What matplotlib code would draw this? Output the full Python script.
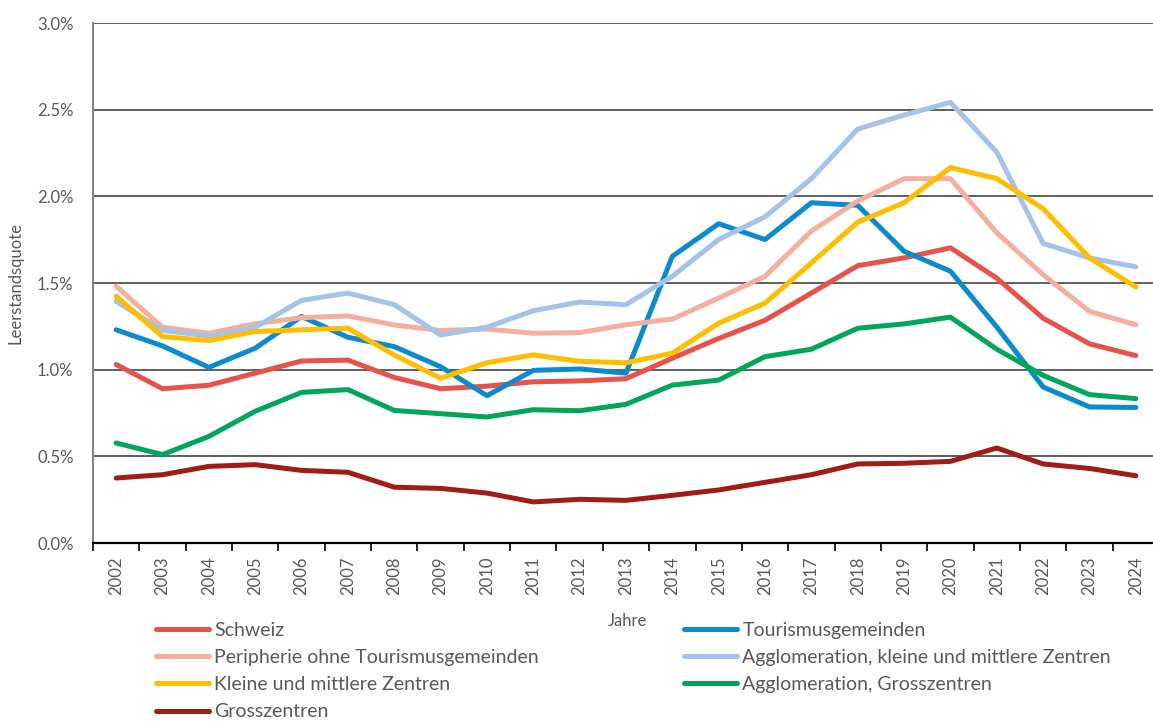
import matplotlib
matplotlib.use("Agg")
import matplotlib.pyplot as plt
from matplotlib.ticker import FuncFormatter, MultipleLocator

years = [str(y) for y in range(2002, 2025)]

schweiz = [1.03, 0.89, 0.91, 0.98, 1.05, 1.055, 0.955, 0.89, 0.905, 0.93, 0.935, 0.948, 1.066,
           1.18, 1.285, 1.442, 1.60, 1.645, 1.703, 1.528, 1.297, 1.149, 1.081]
tourismus = [1.23, 1.137, 1.013, 1.124, 1.307, 1.187, 1.133, 1.017, 0.85, 0.996, 1.004, 0.98, 1.654,
             1.842, 1.751, 1.963, 1.948, 1.683, 1.568, 1.246, 0.90, 0.785, 0.782]
peripherie = [1.481, 1.245, 1.21, 1.265, 1.30, 1.31, 1.258, 1.226, 1.234, 1.21, 1.214, 1.259, 1.292,
              1.413, 1.539, 1.80, 1.973, 2.102, 2.102, 1.79, 1.548, 1.336, 1.259]
agglo_km = [1.394, 1.226, 1.195, 1.245, 1.40, 1.442, 1.375, 1.20, 1.245, 1.34, 1.39, 1.375, 1.539,
            1.751, 1.882, 2.102, 2.388, 2.469, 2.542, 2.255, 1.728, 1.645, 1.593]
kleine_mittlere = [1.423, 1.191, 1.168, 1.22, 1.23, 1.239, 1.085, 0.95, 1.04, 1.085, 1.048, 1.04, 1.095,
                   1.268, 1.384, 1.616, 1.851, 1.963, 2.166, 2.102, 1.929, 1.645, 1.477]
agglo_gross = [0.577, 0.51, 0.615, 0.76, 0.869, 0.885, 0.765, 0.746, 0.727, 0.769, 0.763, 0.80, 0.911,
               0.94, 1.075, 1.118, 1.239, 1.264, 1.303, 1.118, 0.967, 0.856, 0.833]
grosszentren = [0.375, 0.394, 0.442, 0.452, 0.419, 0.408, 0.322, 0.315, 0.288, 0.237, 0.252, 0.246, 0.275,
                0.306, 0.35, 0.394, 0.456, 0.46, 0.471, 0.548, 0.456, 0.43, 0.388]

labels = ["Schweiz", "Tourismusgemeinden", "Peripherie ohne Tourismusgemeinden",
          "Agglomeration, kleine und mittlere Zentren", "Kleine und mittlere Zentren",
          "Agglomeration, Grosszentren", "Grosszentren"]
series = [schweiz, tourismus, peripherie, agglo_km, kleine_mittlere, agglo_gross, grosszentren]
colors = ["#E9524B", "#0A8BCB", "#F5AF9F", "#A4C3E8", "#FFBE00", "#00A65A", "#A21B17"]

plt.rcParams['font.family'] = ['Lato', 'DejaVu Sans']
txt = "#595959"

fig = plt.figure(figsize=(11.53, 7.22), dpi=100)
ax = fig.add_axes([93 / 1153, 1 - 543 / 722, (1159 - 93) / 1153, (543 - 23) / 722])

x = list(range(len(years)))
handles = []
for vals, lab, col in zip(series, labels, colors):
    h, = ax.plot(x, vals, color=col, lw=3.6, solid_capstyle='round', solid_joinstyle='round',
                 label=lab, zorder=3)
    handles.append(h)

ax.set_xlim(-0.5, len(years) - 0.5)
ax.set_ylim(0, 3.0)
ax.yaxis.set_major_locator(MultipleLocator(0.5))
ax.yaxis.set_major_formatter(FuncFormatter(lambda v, p: f"{v:.1f}%"))
ax.grid(axis='y', color='#5f5f5f', lw=1.4, zorder=1)
ax.set_axisbelow(True)

ax.set_xticks(x)
ax.set_xticklabels(years, rotation=90, fontsize=12, color=txt)
ax.set_xticks([i - 0.5 for i in range(len(years) + 1)], minor=True)
ax.tick_params(axis='x', which='major', length=0, pad=10)
ax.tick_params(axis='x', which='minor', length=6, width=1.2, color='black', direction='out')
ax.tick_params(axis='y', length=0, labelsize=12, labelcolor=txt, pad=14)

for s in ['top', 'right']:
    ax.spines[s].set_visible(False)
ax.spines['left'].set_color('#808080')
ax.spines['left'].set_linewidth(1.4)
ax.spines['bottom'].set_color('black')
ax.spines['bottom'].set_linewidth(1.6)

ax.set_ylabel("Leerstandsquote", fontsize=12, color=txt, labelpad=10)
fig.text(628 / 1153, 1 - 621 / 722, "Jahre", fontsize=12, color=txt, ha='center', va='center')

col1 = [handles[0], handles[2], handles[4], handles[6]]
col2 = [handles[1], handles[3], handles[5]]
common = dict(frameon=False, fontsize=14, handlelength=2.75, handletextpad=0.25,
              labelspacing=0.52, borderaxespad=0, borderpad=0, labelcolor=txt)
leg1 = fig.legend(col1, [h.get_label() for h in col1], loc='upper left',
                  bbox_to_anchor=(156 / 1153, 1 - 622 / 722), **common)
leg2 = fig.legend(col2, [h.get_label() for h in col2], loc='upper left',
                  bbox_to_anchor=(684 / 1153, 1 - 622 / 722), **common)

fig.savefig("out.png", dpi=100)
